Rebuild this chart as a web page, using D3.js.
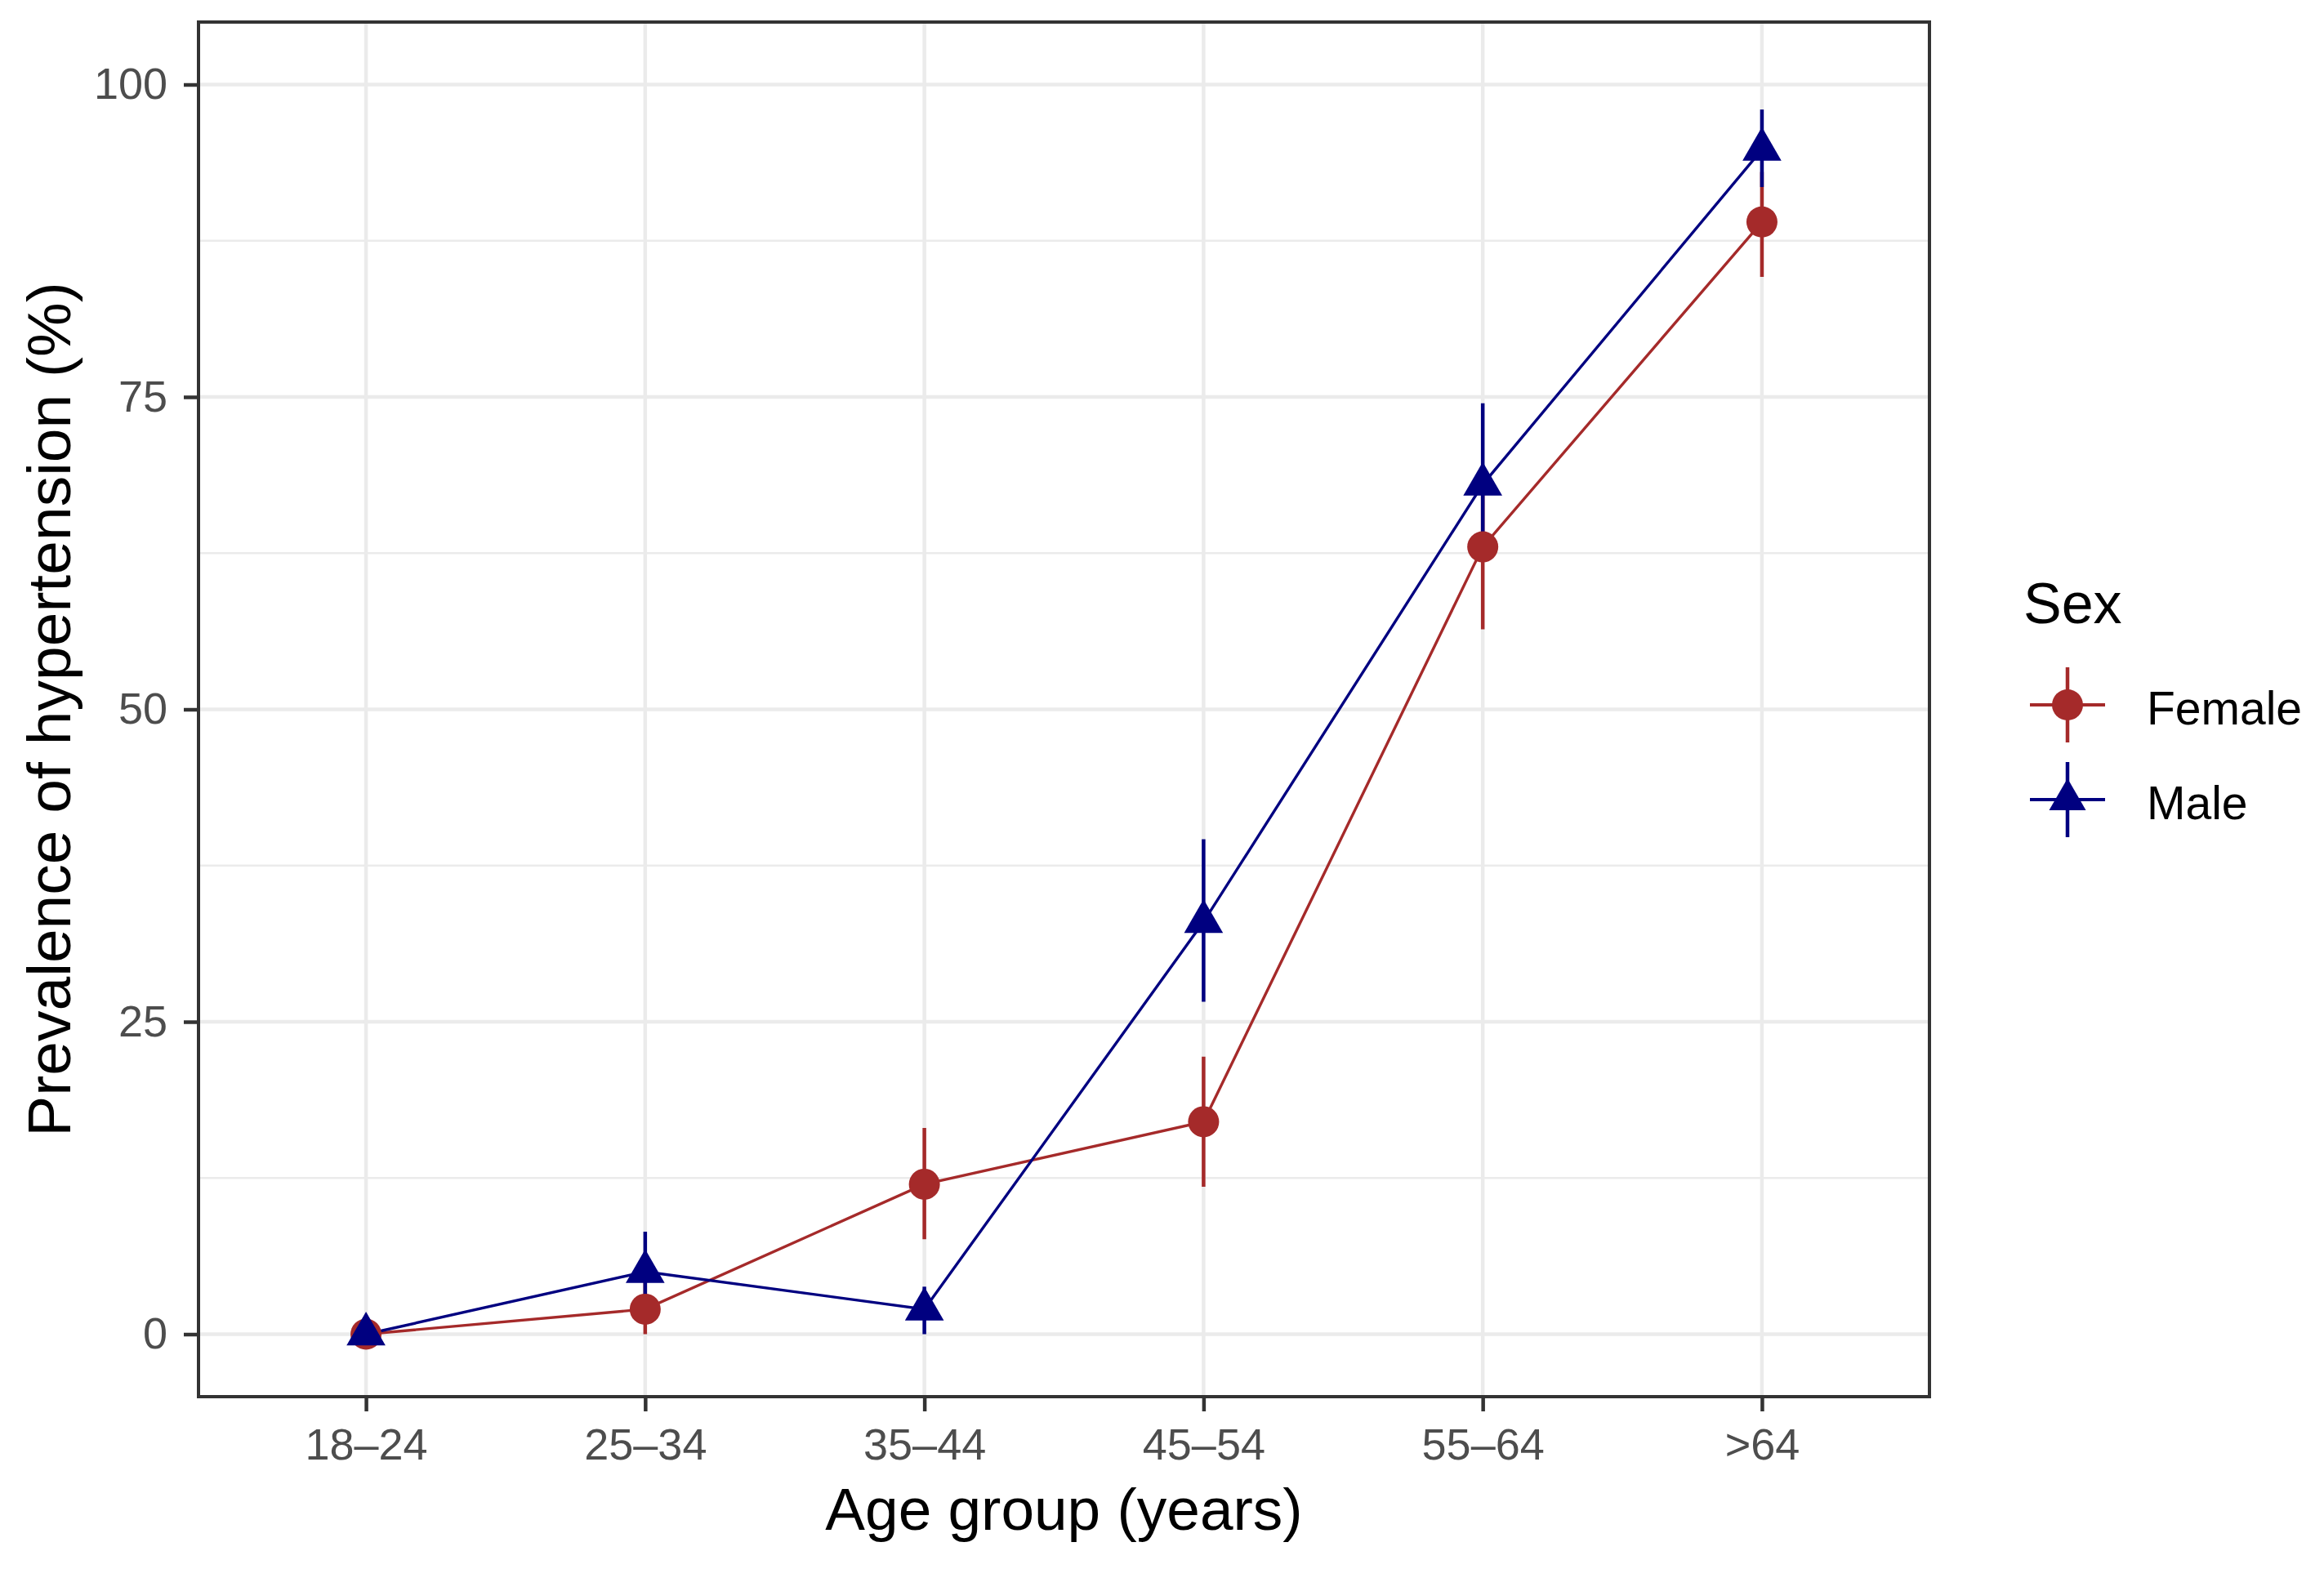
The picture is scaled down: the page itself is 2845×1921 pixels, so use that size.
<!DOCTYPE html>
<html>
<head>
<meta charset="utf-8">
<script src="https://cdn.jsdelivr.net/npm/d3@7"></script>
<style>
  html, body { margin: 0; padding: 0; background: #ffffff; }
  svg { display: block; }
  text { font-family: "Liberation Sans", Arial, Helvetica, sans-serif; }
</style>
</head>
<body>
<script>
// ---------------- data ----------------
const ageGroups = ["18\u201324", "25\u201334", "35\u201344", "45\u201354", "55\u201364", ">64"];
const sexes = ["Female", "Male"];
const femaleValues = [0, 2, 12, 17, 63, 89];
const femaleLower  = [0, 0, 7.6, 11.8, 56.4, 84.6];
const femaleUpper  = [0, 4.5, 16.5, 22.2, 69.5, 93];
const maleValues   = [0, 5, 2, 33, 68, 94.8];
const maleLower    = [0, 2, 0, 26.6, 62, 91.8];
const maleUpper    = [0, 8.2, 3.8, 39.6, 74.5, 98];
const yTicks = [0, 25, 50, 75, 100];
const yMinorTicks = [12.5, 37.5, 62.5, 87.5];
const yLimits = [0, 100];
const xTitle = "Age group (years)";
const yTitle = "Prevalence of hypertension (%)";
const legendTitle = "Sex";

// ---------------- layout ----------------
const W = 2845, H = 1921;
const panel = { left: 243, right: 2362, top: 27, bottom: 1710 };
const colors = { Female: "#A52A2A", Male: "#000080" };
const gridColor = "#EBEBEB";
const axisColor = "#333333";
const tickTextColor = "#4D4D4D";

const series = [
  { name: "Female", values: femaleValues, lower: femaleLower, upper: femaleUpper },
  { name: "Male",   values: maleValues,   lower: maleLower,   upper: maleUpper }
].map(s => ({
  name: s.name,
  points: ageGroups.map((g, i) => ({ group: g, v: s.values[i], lo: s.lower[i], hi: s.upper[i] }))
}));

const svg = d3.select("body").append("svg")
  .attr("width", W).attr("height", H)
  .attr("viewBox", `0 0 ${W} ${H}`);

svg.append("rect").attr("width", W).attr("height", H).attr("fill", "#ffffff");

// scales (ggplot-like 5% expansion on the continuous axis)
const span = yLimits[1] - yLimits[0];
const y = d3.scaleLinear()
  .domain([yLimits[0] - 0.05 * span, yLimits[1] + 0.05 * span])
  .range([panel.bottom, panel.top]);

const x = d3.scalePoint()
  .domain(ageGroups)
  .range([panel.left, panel.right])
  .padding(0.6);

// ---------------- grid ----------------
const grid = svg.append("g");
grid.selectAll("line.minor").data(yMinorTicks).join("line")
  .attr("x1", panel.left).attr("x2", panel.right)
  .attr("y1", d => y(d)).attr("y2", d => y(d))
  .attr("stroke", gridColor).attr("stroke-width", 2.5);
grid.selectAll("line.majorY").data(yTicks).join("line")
  .attr("x1", panel.left).attr("x2", panel.right)
  .attr("y1", d => y(d)).attr("y2", d => y(d))
  .attr("stroke", gridColor).attr("stroke-width", 4.5);
grid.selectAll("line.majorX").data(ageGroups).join("line")
  .attr("x1", d => x(d)).attr("x2", d => x(d))
  .attr("y1", panel.top).attr("y2", panel.bottom)
  .attr("stroke", gridColor).attr("stroke-width", 4.5);

// ---------------- lines ----------------
const lineGen = d3.line().x(d => x(d.group)).y(d => y(d.v));
svg.append("g").selectAll("path").data(series).join("path")
  .attr("d", d => lineGen(d.points))
  .attr("fill", "none")
  .attr("stroke", d => colors[d.name])
  .attr("stroke-width", 3.4);

// ---------------- error bars ----------------
const bars = svg.append("g");
series.forEach(s => {
  bars.append("g").selectAll("line").data(s.points.filter(p => p.hi > p.lo)).join("line")
    .attr("x1", d => x(d.group)).attr("x2", d => x(d.group))
    .attr("y1", d => y(d.lo)).attr("y2", d => y(d.hi))
    .attr("stroke", colors[s.name])
    .attr("stroke-width", 4.5);
});

// ---------------- points ----------------
const triR = 27.5; // circumradius of triangle (R pch 17 style)
function trianglePath(cx, cy, r) {
  const hw = r * Math.sqrt(3) / 2;
  return `M${cx},${cy - r}L${cx + hw},${cy + r / 2}L${cx - hw},${cy + r / 2}Z`;
}
const pts = svg.append("g");
series.forEach(s => {
  const g = pts.append("g");
  if (s.name === "Female") {
    g.selectAll("circle").data(s.points).join("circle")
      .attr("cx", d => x(d.group)).attr("cy", d => y(d.v))
      .attr("r", 19)
      .attr("fill", colors[s.name]);
  } else {
    g.selectAll("path").data(s.points).join("path")
      .attr("d", d => trianglePath(x(d.group), y(d.v), triR))
      .attr("fill", colors[s.name]);
  }
});

// ---------------- panel border ----------------
svg.append("rect")
  .attr("x", panel.left).attr("y", panel.top)
  .attr("width", panel.right - panel.left)
  .attr("height", panel.bottom - panel.top)
  .attr("fill", "none")
  .attr("stroke", axisColor)
  .attr("stroke-width", 4);

// ---------------- axes ----------------
const xAxis = svg.append("g")
  .attr("transform", `translate(0,${panel.bottom})`)
  .call(d3.axisBottom(x).tickSize(18).tickPadding(21));
const yAxis = svg.append("g")
  .attr("transform", `translate(${panel.left},0)`)
  .call(d3.axisLeft(y).tickValues(yTicks).tickFormat(d3.format("d")).tickSize(18).tickPadding(20));

[xAxis, yAxis].forEach(ax => {
  ax.select(".domain").remove();
  ax.selectAll(".tick line").attr("stroke", axisColor).attr("stroke-width", 4.5);
  ax.selectAll(".tick text")
    .attr("fill", tickTextColor)
    .style("font-family", '"Liberation Sans", Arial, sans-serif')
    .style("font-size", "54px");
});

// ---------------- axis titles ----------------
svg.append("text")
  .attr("x", (panel.left + panel.right) / 2)
  .attr("y", 1873)
  .attr("text-anchor", "middle")
  .attr("fill", "#000")
  .style("font-size", "73px")
  .text(xTitle);

svg.append("text")
  .attr("transform", `translate(86,${(panel.top + panel.bottom) / 2}) rotate(-90)`)
  .attr("text-anchor", "middle")
  .attr("fill", "#000")
  .style("font-size", "75px")
  .text(yTitle);

// ---------------- legend ----------------
const legend = svg.append("g");
legend.append("text")
  .attr("x", 2477).attr("y", 763)
  .attr("fill", "#000")
  .style("font-size", "70px")
  .text(legendTitle);

const keyX = 2531, keyY0 = 863, keyStep = 116;
sexes.forEach((name, i) => {
  const cy = keyY0 + i * keyStep;
  const k = legend.append("g");
  k.append("line")
    .attr("x1", keyX - 46).attr("x2", keyX + 46)
    .attr("y1", cy).attr("y2", cy)
    .attr("stroke", colors[name]).attr("stroke-width", 4);
  k.append("line")
    .attr("x1", keyX).attr("x2", keyX)
    .attr("y1", cy - 46).attr("y2", cy + 46)
    .attr("stroke", colors[name]).attr("stroke-width", 4.5);
  if (name === "Female") {
    k.append("circle").attr("cx", keyX).attr("cy", cy).attr("r", 19).attr("fill", colors[name]);
  } else {
    k.append("path").attr("d", trianglePath(keyX, cy, 26)).attr("fill", colors[name]);
  }
  legend.append("text")
    .attr("x", 2628).attr("y", cy + 24)
    .attr("fill", "#000")
    .style("font-size", "57px")
    .text(name);
});
</script>
</body>
</html>
